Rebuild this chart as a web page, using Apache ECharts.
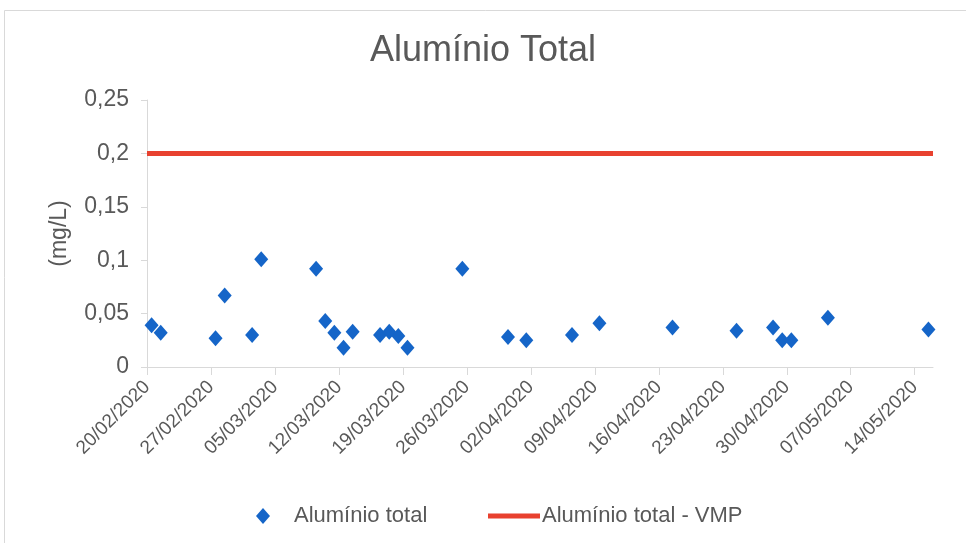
<!DOCTYPE html>
<html>
<head>
<meta charset="utf-8">
<script src="https://cdn.jsdelivr.net/npm/echarts@6/dist/echarts.min.js"></script>
<style>html,body{margin:0;padding:0;background:#fff;}#c{width:966px;height:543px;}</style>
</head>
<body>
<div id="c"></div>
<script>
var sampleDates = ['2020-02-20','2020-02-21','2020-02-27','2020-02-28','2020-03-02','2020-03-03','2020-03-09','2020-03-10','2020-03-11','2020-03-12','2020-03-13','2020-03-16','2020-03-17','2020-03-18','2020-03-19','2020-03-25','2020-03-30','2020-04-01','2020-04-06','2020-04-09','2020-04-17','2020-04-24','2020-04-28','2020-04-29','2020-04-30','2020-05-04','2020-05-15'];
var aluminioTotal = [0.039,0.032,0.027,0.067,0.030,0.101,0.092,0.043,0.032,0.018,0.033,0.030,0.033,0.029,0.018,0.092,0.028,0.025,0.030,0.041,0.037,0.034,0.037,0.025,0.025,0.046,0.035];
var vmpDates = ['2020-02-20','2020-05-16'];
var vmpValues = [0.2, 0.2];
var xTickLabels = ['20/02/2020','27/02/2020','05/03/2020','12/03/2020','19/03/2020','26/03/2020','02/04/2020','09/04/2020','16/04/2020','23/04/2020','30/04/2020','07/05/2020','14/05/2020'];
var yTickLabels = ['0','0,05','0,1','0,15','0,2','0,25'];

var startDate = '2020-02-20';
function dayOffset(s) {
  var p = s.split('-').map(Number), q = startDate.split('-').map(Number);
  return Math.round((Date.UTC(p[0], p[1]-1, p[2]) - Date.UTC(q[0], q[1]-1, q[2])) / 86400000);
}
var scatterData = sampleDates.map(function (d, i) { return [dayOffset(d) + 0.5, aluminioTotal[i]]; });
var vmpData = vmpDates.map(function (d, i) { return [dayOffset(d), vmpValues[i]]; });
var tickDays = xTickLabels.map(function (_, i) { return i * 7; });
var axisMax = dayOffset(vmpDates[1]);

var font = 'Liberation Sans, Arial, sans-serif';
var txt = '#595959';
var chart = echarts.init(document.getElementById('c'));
chart.setOption({
  animation: false,
  backgroundColor: '#fff',
  graphic: [{
    type: 'rect', silent: true,
    shape: { x: 4.5, y: 10.5, width: 975, height: 545 },
    style: { fill: 'none', stroke: '#d9d9d9', lineWidth: 1 }
  }],
  title: {
    text: 'Alumínio Total', left: 'center', top: 28,
    textStyle: { fontFamily: font, fontSize: 36, fontWeight: 'normal', color: txt }
  },
  legend: [{
    data: [{ name: 'Alumínio total', icon: 'diamond' }],
    left: 251, top: 500, itemWidth: 14, itemHeight: 16,
    textStyle: { fontFamily: font, fontSize: 22, color: txt, padding: [0, 0, 0, 19] }
  }, {
    data: [{ name: 'Alumínio total - VMP', icon: 'rect' }],
    left: 483, top: 500, itemWidth: 52, itemHeight: 5,
    textStyle: { fontFamily: font, fontSize: 22, color: txt, padding: [0, 0, 0, -3] }
  }],
  grid: { left: 147, right: 33, top: 100, bottom: 176 },
  xAxis: {
    type: 'value', min: 0, max: axisMax, interval: 7,
    splitLine: { show: false },
    axisLine: { show: true, lineStyle: { color: '#d9d9d9', width: 1 } },
    axisTick: { show: true, length: 8, lineStyle: { color: '#d9d9d9' }, customValues: tickDays },
    axisLabel: {
      customValues: tickDays, rotate: 45, margin: 17,
      fontFamily: font, fontSize: 19, color: txt,
      formatter: function (v) { return xTickLabels[Math.round(v / 7)] || ''; }
    }
  },
  yAxis: {
    type: 'value', min: 0, max: 0.25, interval: 0.05,
    name: '(mg/L)', nameLocation: 'middle', nameRotate: 90, nameGap: 76,
    nameTextStyle: { fontFamily: font, fontSize: 23, color: txt },
    splitLine: { show: false },
    axisLine: { show: true, lineStyle: { color: '#d9d9d9', width: 1 } },
    axisTick: { show: true, length: 6, lineStyle: { color: '#d9d9d9' } },
    axisLabel: {
      margin: 18, fontFamily: font, fontSize: 23, color: txt,
      formatter: function (v) { return yTickLabels[Math.round(v / 0.05)]; }
    }
  },
  series: [{
    name: 'Alumínio total', type: 'scatter', data: scatterData,
    symbol: 'diamond', symbolSize: [14, 16],
    itemStyle: { color: '#1565c8', opacity: 1 }, z: 3
  }, {
    name: 'Alumínio total - VMP', type: 'line', data: vmpData,
    symbol: 'none', lineStyle: { color: '#e8412f', width: 5 },
    itemStyle: { color: '#e8412f' }, z: 2
  }]
});
</script>
</body>
</html>
